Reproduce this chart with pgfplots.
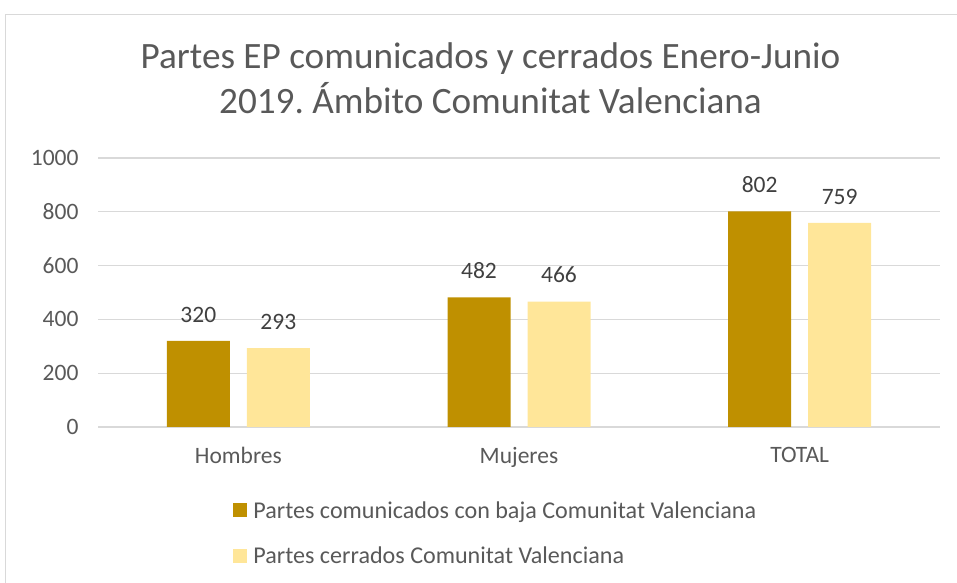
\documentclass[border=0pt]{standalone}
\usepackage{fontspec}
\setmainfont{Carlito}
\usepackage{pgfplots}
\pgfplotsset{compat=1.18}
\definecolor{darkgold}{HTML}{BF9000}
\definecolor{lightgold}{HTML}{FFE699}
\definecolor{txt}{HTML}{595959}
\definecolor{lbl}{HTML}{404040}
\definecolor{gridc}{HTML}{D9D9D9}
\frenchspacing
\begin{document}
\begin{tikzpicture}
\useasboundingbox (0,0) rectangle (957bp,583bp);
\begin{scope}
\clip (0,0) rectangle (957bp,583bp);
\draw[gridc, line width=1.2bp] (5.5bp,-5bp) rectangle (965bp,568.5bp);
\end{scope}
\node[txt, anchor=base, font=\fontsize{37.2bp}{43bp}\selectfont, inner sep=0pt] at (490.5bp,514bp) {Partes EP comunicados y cerrados Enero-Junio};
\node[txt, anchor=base, font=\fontsize{37.2bp}{43bp}\selectfont, inner sep=0pt] at (490.5bp,469.5bp) {2019. Ámbito Comunitat Valenciana};
\begin{axis}[
  at={(98bp,156bp)}, anchor=south west,
  scale only axis, width=842bp, height=269bp,
  xmin=-0.5, xmax=2.5, ymin=0, ymax=1000,
  ybar=17bp, bar width=63bp,
  xtick={0,1,2}, xticklabels={Hombres,Mujeres,TOTAL},
  ytick={0,200,...,1000},
  ymajorgrids, grid style={gridc, line width=1.2bp},
  axis lines*=left,
  y axis line style={draw=none},
  x axis line style={gridc, line width=1.2bp, -},
  major tick length=0pt,
  /pgf/number format/assume math mode=true,
  /pgf/number format/1000 sep={},
  tick label style={font=\fontsize{23.5bp}{27bp}\selectfont, text=txt},
  yticklabel style={xshift=-16bp},
  xticklabel style={yshift=-17bp},
  nodes near coords,
  nodes near coords style={font=\fontsize{23.5bp}{27bp}\selectfont, text=lbl, yshift=15bp},
  legend style={at={(0.160,-0.268)}, anchor=north west, draw=none, fill=none,
    inner sep=0pt, row sep=23bp, legend cell align=left,
    font=\fontsize{24.1bp}{28bp}\selectfont, text=txt},
  legend image code/.code={\fill[#1] (0bp,-7bp) rectangle (14bp,7bp); \path (18.5bp,0bp);},
]
\addplot[fill=darkgold, draw=none] coordinates {(0,320) (1,482) (2,802)};
\addlegendentry{Partes comunicados con baja Comunitat Valenciana}
\addplot[fill=lightgold, draw=none] coordinates {(0,293) (1,466) (2,759)};
\addlegendentry{Partes cerrados Comunitat Valenciana}
\end{axis}
\end{tikzpicture}
\end{document}
